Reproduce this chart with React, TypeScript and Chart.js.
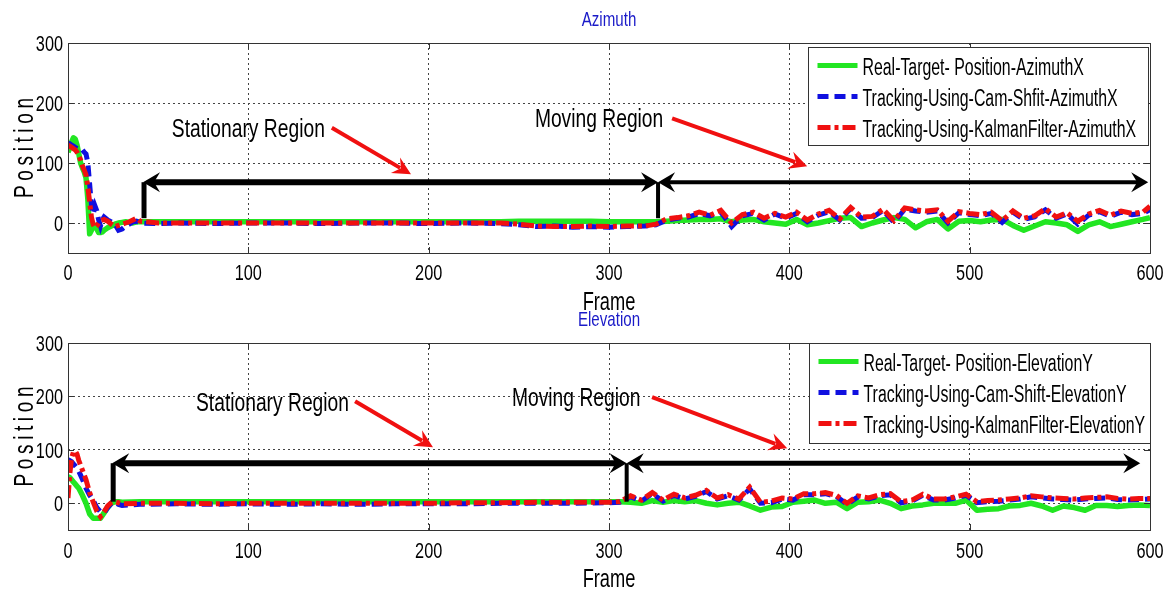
import React, { useEffect, useRef } from 'react';
import { Chart, registerables } from 'chart.js';

Chart.register(...registerables);

// ---------------- data ----------------
const X_TICKS = [0, 100, 200, 300, 400, 500, 600];
const Y_TICKS = [0, 100, 200, 300];

const AZ_LABELS = [
  'Real-Target- Position-AzimuthX',
  'Tracking-Using-Cam-Shfit-AzimuthX',
  'Tracking-Using-KalmanFilter-AzimuthX',
];
const EL_LABELS = [
  'Real-Target- Position-ElevationY',
  'Tracking-Using-Cam-Shift-ElevationY',
  'Tracking-Using-KalmanFilter-ElevationY',
];

const AZ_FRAMES = [
  0, 1, 2, 3, 4, 5, 6, 7, 8, 9, 10, 11, 12, 13, 14, 15, 16, 17, 18, 19, 20, 22, 24, 26, 28, 30, 32, 34, 36, 38, 40,
  50, 60, 80, 100, 120, 140, 160, 180, 200, 220, 240, 250, 260, 270, 280, 290, 300, 310, 320, 326,
  332, 338, 344, 350, 356, 362, 368, 374, 380, 386, 392, 398, 404, 410, 416, 422, 428, 434, 440, 446,
  452, 458, 464, 470, 476, 482, 488, 494, 500, 506, 512, 518, 524, 530, 536, 542, 548, 554, 560, 566,
  572, 578, 584, 590, 596, 600,
];
const AZ_REAL = [
  118, 125, 135, 142, 140, 130, 115, 100, 92, 85, 75, 40, -18, -12, -5, -4, -10, -16, -16, -15, -12, -8, -5, -2, 0, 1, 2, 1, 0, 2, 2,
  2, 2, 2, 2, 2, 2, 2, 2, 2, 2, 2, 3, 3, 3, 3, 3, 2, 2, 2, 2,
  3, 4, 5, 6, 6, 7, 2, 5, 6, 2, 0, -2, 6, -3, 0, 4, 8, 9, -6, 0,
  5, 9, 6, -8, 2, 6, -10, 3, 4, 2, 5, 6, -4, -12, -5, 2, 0, -3, -14, -3,
  2, -6, -2, 2, 6, 9,
];
const AZ_CAMSHIFT = [
  130, 132, 130, 128, 126, 124, 122, 123, 122, 118, 115, 100, 65, 30, 15, 28, 20, 5, -5, 5, 10, 5, 2, -2, -12, -10, -5, -2, 2, 3, 0,
  -1, 0, -1, 0, 0, -1, 0, 0, -1, 0, -1, -3, -6, -5, -7, -6, -7, -6, -5, -3,
  5, 8, 10, 16, 12, 18, -6, 12, 16, 5, 15, 8, 16, 2, 13, 19, 5, 24, 8, 9,
  21, 1, 23, 20, 18, 20, 0, 17, 14, 12, 16, 1, 18, 6, 10, 22, 8, 15, -2, 13,
  19, 11, 18, 14, 16, 22,
];
const AZ_KALMAN = [
  130, 128, 126, 124, 122, 118, 112, 105, 95, 88, 80, 60, 35, 10, -3, -8, -5, 0, 4, 5, 6, 3, -2, -6, -4, -2, 0, 2, 5, 8, 3,
  0, 0, 0, 0, 0, 0, 0, 0, 0, 0, 0, -2, -5, -6, -6, -5, -6, -5, -5, -2,
  7, 9, 12, 18, 13, 21, 0, 14, 18, 8, 16, 10, 18, 5, 15, 21, 7, 26, 10, 11,
  23, 4, 25, 22, 20, 22, 3, 19, 16, 14, 18, 4, 20, 8, 12, 24, 10, 17, 3, 15,
  21, 13, 20, 16, 18, 28,
];

const EL_FRAMES = [
  0, 1, 2, 3, 4, 5, 6, 8, 10, 12, 14, 16, 18, 20, 22, 24, 26, 28, 30,
  40, 60, 80, 100, 120, 140, 160, 180, 200, 220, 240, 260, 280, 300, 306,
  312, 318, 324, 330, 336, 342, 348, 354, 360, 366, 372, 378, 384, 390, 396, 402, 408, 414, 420, 426,
  432, 438, 444, 450, 456, 462, 468, 474, 480, 486, 492, 498, 504, 510, 516, 522, 528, 534, 540, 546,
  552, 558, 564, 570, 576, 582, 588, 594, 600,
];
const EL_REAL = [
  50, 48, 44, 40, 36, 32, 28, 15, 0, -20, -28, -28, -28, -18, -8, 0, 3, 3, 2,
  3, 3, 3, 3, 3, 3, 3, 3, 3, 3, 3, 3, 3, 3, 3,
  2, 0, 5, 2, 5, 3, 5, 0, -3, 0, 2, -5, -13, -7, -6, 2, 4, 6, 0, 2,
  -10, 2, 3, 6, 0, -10, -5, -3, 0, 0, 0, 6, -13, -11, -10, -5, -4, 0, -5, -13,
  -5, -8, -13, -4, -4, -6, -4, -3, -4,
];
const EL_CAMSHIFT = [
  77, 80, 78, 74, 70, 66, 60, 45, 28, 15, 5, -8, -16, -18, -8, 0, 2, -2, -4,
  -2, -1, -2, -1, -2, -1, -2, -1, -1, -1, 0, 0, 0, 1, 2,
  12, 4, 18, 4, 15, 8, 13, 22, 8, 14, 6, 27, 0, 1, 8, 6, 16, 16, 18, 13,
  -2, 12, 8, 14, 16, 1, 4, 15, 6, 6, 10, 15, 1, 3, 4, 6, 8, 12, 10, 8,
  7, 6, 8, 9, 10, 7, 6, 7, 8,
];
const EL_KALMAN = [
  10, 55, 85, 96, 98, 92, 80, 62, 44, 20, 2, -15, -25, -16, -5, 1, 3, 1, -1,
  0, 0, -1, 0, 0, 0, 0, 0, 0, 1, 1, 2, 2, 2, 3,
  14, 6, 20, 6, 17, 10, 15, 24, 10, 16, 8, 30, 2, 4, 10, 8, 18, 18, 20, 15,
  0, 14, 10, 16, 18, 3, 6, 17, 8, 8, 12, 17, 3, 5, 6, 8, 10, 14, 12, 10,
  9, 8, 10, 11, 12, 9, 8, 9, 9,
];

// ---------------- styling ----------------
const GREEN = '#22e622';
const BLUE = '#1010e0';
const RED = '#f01010';
const TITLE_BLUE = '#1a1ac8';
const FONT = '"Liberation Sans", Arial, sans-serif';

type Pt = [number, number];
interface Annot {
  stationaryText: Pt;
  movingText: Pt;
  redArrows: [Pt, Pt][];
  arrowY: number;
  xStart: number;
  xMid: number;
  xEnd: number;
  vBottom: number;
  statWidth: number;
  moveWidth: number;
}

interface PanelCfg {
  title: string;
  labels: string[];
  frames: number[];
  real: number[];
  cam: number[];
  kal: number[];
  height: number;
  top: number;
  padding: { left: number; top: number; right: number; bottom: number };
  tickGap: number;
  legend: { dx: number; dy: number; w: number; h: number };
  annot: Annot;
}

function drawText(ctx: CanvasRenderingContext2D, text: string, x: number, yc: number, size: number, sx: number, align: 'left' | 'center' | 'right', color: string) {
  ctx.save();
  ctx.font = `${size}px ${FONT}`;
  ctx.fillStyle = color;
  ctx.textAlign = 'left';
  ctx.textBaseline = 'alphabetic';
  const w = ctx.measureText(text).width * sx;
  const x0 = align === 'left' ? x : align === 'center' ? x - w / 2 : x - w;
  ctx.translate(x0, yc + size * 0.358);
  ctx.scale(sx, 1);
  ctx.fillText(text, 0, 0);
  ctx.restore();
}

function drawVertical(ctx: CanvasRenderingContext2D, text: string, xc: number, yc: number, size: number, sx: number, spacing: number, color: string) {
  ctx.save();
  ctx.font = `${size}px ${FONT}`;
  ctx.fillStyle = color;
  ctx.textAlign = 'left';
  ctx.textBaseline = 'alphabetic';
  const chars = text.split('');
  const widths = chars.map((c) => ctx.measureText(c).width * sx);
  const total = widths.reduce((a, b) => a + b, 0) + spacing * (chars.length - 1);
  ctx.translate(xc + size * 0.358, yc);
  ctx.rotate(-Math.PI / 2);
  let cx = -total / 2;
  chars.forEach((c, i) => {
    ctx.save();
    ctx.translate(cx, 0);
    ctx.scale(sx, 1);
    ctx.fillText(c, 0, 0);
    ctx.restore();
    cx += widths[i] + spacing;
  });
  ctx.restore();
}

function arrowHead(ctx: CanvasRenderingContext2D, tx: number, ty: number, ang: number, len: number, hw: number, color: string) {
  ctx.save();
  ctx.translate(tx, ty);
  ctx.rotate(ang);
  ctx.fillStyle = color;
  ctx.beginPath();
  ctx.moveTo(0, 0);
  ctx.lineTo(-len, -hw);
  ctx.lineTo(-len * 0.65, 0);
  ctx.lineTo(-len, hw);
  ctx.closePath();
  ctx.fill();
  ctx.restore();
}

function line(ctx: CanvasRenderingContext2D, x1: number, y1: number, x2: number, y2: number, w: number, color: string) {
  ctx.save();
  ctx.strokeStyle = color;
  ctx.lineWidth = w;
  ctx.lineCap = 'butt';
  ctx.beginPath();
  ctx.moveTo(x1, y1);
  ctx.lineTo(x2, y2);
  ctx.stroke();
  ctx.restore();
}

function makeDecor(cfg: PanelCfg) {
  return {
    id: 'decor',
    afterDraw(chart: any) {
      const ctx: CanvasRenderingContext2D = chart.ctx;
      const { left, right, top, bottom } = chart.chartArea;
      const xs = chart.scales.x;
      const ys = chart.scales.y;
      const X = (v: number) => xs.getPixelForValue(v);
      const Y = (v: number) => ys.getPixelForValue(v);

      // axes box
      ctx.save();
      ctx.strokeStyle = '#333';
      ctx.lineWidth = 1;
      ctx.strokeRect(Math.round(left) + 0.5, Math.round(top) + 0.5, Math.round(right - left), Math.round(bottom - top));
      ctx.restore();

      // inside tick marks
      X_TICKS.forEach((v) => {
        const px = Math.round(X(v)) + 0.5;
        line(ctx, px, bottom, px, bottom - 6, 1, '#333');
        line(ctx, px, top, px, top + 6, 1, '#333');
      });
      Y_TICKS.forEach((v) => {
        const py = Math.round(Y(v)) + 0.5;
        line(ctx, left, py, left + 6, py, 1, '#333');
        line(ctx, right, py, right - 6, py, 1, '#333');
      });

      // tick labels
      X_TICKS.forEach((v) => drawText(ctx, String(v), X(v), bottom + cfg.tickGap, 22, 0.74, 'center', '#000'));
      Y_TICKS.forEach((v) => drawText(ctx, String(v), left - 5, Y(v), 22, 0.74, 'right', '#000'));

      // axis titles
      drawText(ctx, 'Frame', (left + right) / 2, bottom + 48, 25, 0.73, 'center', '#000');
      drawVertical(ctx, 'Position', 23, (top + bottom) / 2, 28, 0.68, 4.6, '#000');

      // chart title
      drawText(ctx, cfg.title, (left + right) / 2, top - 25, 21, 0.72, 'center', TITLE_BLUE);

      // annotations
      const a = cfg.annot;
      drawText(ctx, 'Stationary Region', X(a.stationaryText[0]), Y(a.stationaryText[1]), 25, 0.77, 'center', '#000');
      drawText(ctx, 'Moving Region', X(a.movingText[0]), Y(a.movingText[1]), 25, 0.77, 'center', '#000');
      a.redArrows.forEach(([s, e]) => {
        const x1 = X(s[0]), y1 = Y(s[1]), x2 = X(e[0]), y2 = Y(e[1]);
        const ang = Math.atan2(y2 - y1, x2 - x1);
        const len = 18;
        line(ctx, x1, y1, x2 - Math.cos(ang) * len * 0.7, y2 - Math.sin(ang) * len * 0.7, 4, RED);
        arrowHead(ctx, x2, y2, ang, len, 9, RED);
      });
      const ay = Y(a.arrowY);
      const xs0 = X(a.xStart), xm = X(a.xMid), xe = X(a.xEnd);
      const hl = 17, hw = 10;
      line(ctx, xs0 + hl * 0.6, ay, xm - hl * 0.6, ay, a.statWidth, '#000');
      line(ctx, xm + hl * 0.6, ay, xe - hl * 0.6, ay, a.moveWidth, '#000');
      arrowHead(ctx, xs0, ay, Math.PI, hl, hw, '#000');
      arrowHead(ctx, xm, ay, 0, hl, hw, '#000');
      arrowHead(ctx, xm, ay, Math.PI, hl, hw, '#000');
      arrowHead(ctx, xe, ay, 0, hl, hw, '#000');
      line(ctx, xs0 + 1, ay, xs0 + 1, Y(a.vBottom), 5, '#000');
      line(ctx, xm, ay, xm, Y(a.vBottom), 4, '#000');

      // legend
      const lg = cfg.legend;
      const bx = Math.round(right - lg.dx) + 0.5;
      const by = Math.round(top + lg.dy) + 0.5;
      ctx.save();
      ctx.fillStyle = '#fff';
      ctx.fillRect(bx, by, lg.w, lg.h);
      ctx.strokeStyle = '#333';
      ctx.lineWidth = 1;
      ctx.strokeRect(bx, by, lg.w, lg.h);
      ctx.restore();
      chart.data.datasets.forEach((ds: any, i: number) => {
        const ry = by + 18 + 31 * i;
        ctx.save();
        ctx.strokeStyle = ds.borderColor;
        ctx.lineWidth = 5;
        ctx.setLineDash(ds.borderDash || []);
        ctx.beginPath();
        ctx.moveTo(bx + 9, ry);
        ctx.lineTo(bx + 49, ry);
        ctx.stroke();
        ctx.restore();
        drawText(ctx, ds.label, bx + 54, ry + 1, 23, 0.69, 'left', '#000');
      });
    },
  };
}

function Panel({ cfg }: { cfg: PanelCfg }) {
  const ref = useRef<HTMLCanvasElement>(null);
  useEffect(() => {
    const canvas = ref.current;
    if (!canvas) return;
    const pts = (arr: number[]) => cfg.frames.map((f, i) => ({ x: f, y: arr[i] }));
    const chart = new Chart(canvas, {
      type: 'line',
      data: {
        datasets: [
          { label: cfg.labels[0], data: pts(cfg.real), borderColor: GREEN, backgroundColor: GREEN, borderWidth: 5.5, pointRadius: 0, order: 3, borderJoinStyle: 'round', tension: 0 },
          { label: cfg.labels[1], data: pts(cfg.cam), borderColor: BLUE, backgroundColor: BLUE, borderWidth: 5, pointRadius: 0, order: 2, borderDash: [11, 6], tension: 0 },
          { label: cfg.labels[2], data: pts(cfg.kal), borderColor: RED, backgroundColor: RED, borderWidth: 5, pointRadius: 0, order: 1, borderDash: [13, 4, 4, 4], tension: 0 },
        ],
      } as any,
      options: {
        responsive: false,
        animation: false,
        devicePixelRatio: 1,
        events: [],
        layout: { padding: cfg.padding },
        plugins: { legend: { display: false }, title: { display: false }, tooltip: { enabled: false } },
        scales: {
          x: {
            type: 'linear',
            min: 0,
            max: 600,
            afterBuildTicks: (s: any) => { s.ticks = X_TICKS.map((v) => ({ value: v })); },
            afterFit: (s: any) => { s.height = 0; },
            ticks: { display: false },
            grid: { color: '#444', lineWidth: 1, drawTicks: false },
            border: { display: false, dash: [2, 3] },
          },
          y: {
            type: 'linear',
            min: -50,
            max: 300,
            afterBuildTicks: (s: any) => { s.ticks = Y_TICKS.map((v) => ({ value: v })); },
            afterFit: (s: any) => { s.width = 0; },
            ticks: { display: false },
            grid: { color: '#444', lineWidth: 1, drawTicks: false },
            border: { display: false, dash: [2, 3] },
          },
        },
      } as any,
      plugins: [makeDecor(cfg) as any],
    });
    return () => chart.destroy();
  }, []);
  return (
    <canvas
      ref={ref}
      width={1174}
      height={cfg.height}
      style={{ position: 'absolute', left: 0, top: cfg.top, width: 1174, height: cfg.height }}
    />
  );
}

const AZ_CFG: PanelCfg = {
  title: 'Azimuth',
  labels: AZ_LABELS,
  frames: AZ_FRAMES,
  real: AZ_REAL,
  cam: AZ_CAMSHIFT,
  kal: AZ_KALMAN,
  height: 311,
  top: 0,
  padding: { left: 68, top: 43, right: 24, bottom: 58 },
  tickGap: 19,
  legend: { dx: 342, dy: 4, w: 340, h: 98 },
  annot: {
    stationaryText: [100, 158],
    movingText: [294.5, 174.5],
    redArrows: [
      [[146.3, 158.8], [190.2, 81.2]],
      [[335, 174.5], [409.9, 94.5]],
    ],
    arrowY: 68,
    xStart: 41.6,
    xMid: 327.2,
    xEnd: 599,
    vBottom: 8,
    statWidth: 6,
    moveWidth: 4,
  },
};

const EL_CFG: PanelCfg = {
  title: 'Elevation',
  labels: EL_LABELS,
  frames: EL_FRAMES,
  real: EL_REAL,
  cam: EL_CAMSHIFT,
  kal: EL_KALMAN,
  height: 284,
  top: 311,
  padding: { left: 68, top: 32, right: 24, bottom: 65 },
  tickGap: 20,
  legend: { dx: 341, dy: 0, w: 341, h: 100 },
  annot: {
    stationaryText: [113.4, 190],
    movingText: [281.8, 198.8],
    redArrows: [
      [[159.2, 191], [202.4, 105]],
      [[323.9, 198.8], [398.8, 103]],
    ],
    arrowY: 75,
    xStart: 24.5,
    xMid: 309.8,
    xEnd: 594.6,
    vBottom: 3,
    statWidth: 6,
    moveWidth: 5,
  },
};

export default function App() {
  return (
    <div style={{ position: 'absolute', left: 0, top: 0, width: 1174, height: 595, background: '#fff', overflow: 'hidden' }}>
      <Panel cfg={AZ_CFG} />
      <Panel cfg={EL_CFG} />
    </div>
  );
}
